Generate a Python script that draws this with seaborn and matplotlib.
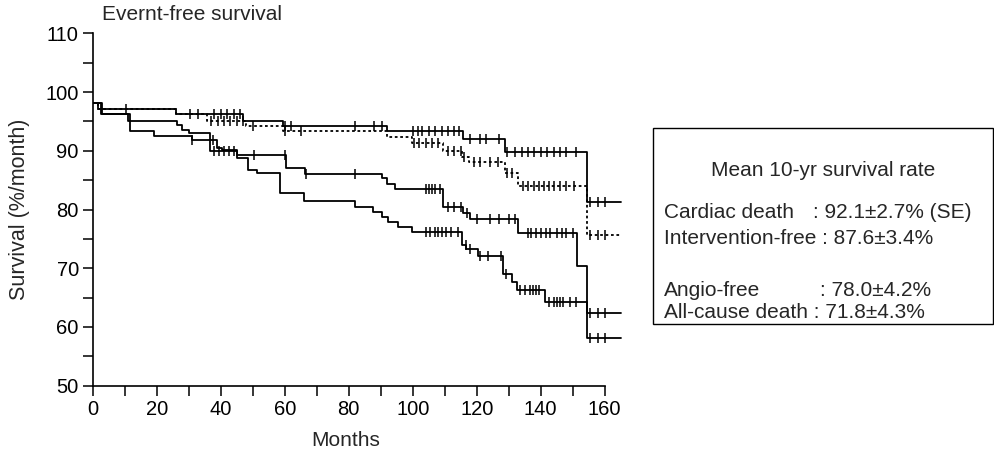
"""Event-free survival step curves (Kaplan-Meier style) with censor marks."""

import numpy as np
import pandas as pd
import matplotlib
matplotlib.use("Agg")
import matplotlib.pyplot as plt
import seaborn as sns
from matplotlib.patches import Rectangle

W, H = 994, 455

# step curves: time of each step (months) and survival after the step (%)
cardiac_t = [0, 1.5, 26, 47, 59.5, 92, 115.8, 128.9, 154.4]
cardiac_s = [98.1, 97.1, 96.2, 95.1, 94.3, 93.4, 92.0, 89.8, 81.3]

interv_t = [0, 1.5, 26, 35.6, 48, 59.5, 92, 99.7, 109.5, 115.5, 117.5, 128.9, 133, 154.4]
interv_s = [98.1, 97.1, 96.2, 95.1, 94.3, 93.4, 92.4, 91.3, 90.0, 88.9, 88.1, 86.2, 84.0, 75.7]

angio_t = [0, 2.5, 10.9, 26.4, 28, 30, 36.7, 38.8, 40.5, 45, 60.5, 66.3, 90.3, 92, 94.5,
           109.5, 115.8, 118, 133, 151.3, 154.4]
angio_s = [98.1, 96.3, 95.1, 94.4, 93.6, 93.0, 91.9, 90.4, 90.1, 89.2, 87.0, 86.1, 85.3, 84.4, 83.5,
           80.4, 79.4, 78.3, 76.0, 70.3, 62.4]

allcause_t = [0, 3, 11.7, 19, 31, 36.7, 45, 48.6, 51.2, 58.5, 66, 82, 87.7, 90.3, 92.4, 95.5,
              99.7, 115.3, 116.8, 120.5, 128.2, 131, 132.5, 141.3, 154.4]
allcause_s = [98.1, 96.3, 93.3, 92.5, 91.9, 89.9, 88.7, 86.7, 86.2, 82.8, 81.4, 80.5, 79.6, 78.8, 77.8, 77.1,
              76.2, 74.0, 73.2, 72.0, 69.1, 67.7, 66.3, 64.3, 58.1]

end_t = 165

# censored observations (months)
cardiac_c = [10.5, 30.5, 33, 38, 40, 42, 44, 46, 60, 62, 82, 88, 90.5, 100, 101.5, 103, 105, 107, 109,
             111, 113, 114.5, 118, 121, 123, 127, 129.5, 132, 134, 136, 138, 140, 142, 144, 146, 148,
             151, 155.5, 158, 160]
interv_c = [37, 39, 41, 43, 45, 47, 50, 60, 65, 100.5, 102, 104, 106, 108, 111, 113, 115, 116, 119, 121,
            124, 126.5, 129.5, 131, 134.5, 136, 138, 139.5, 141, 142.5, 144, 146, 148, 150.5,
            155.5, 158, 160]
angio_c = [37.5, 50.5, 60, 66.5, 82, 104, 105, 106, 107, 108.5, 111, 113, 115, 117, 120, 124, 127, 130,
           132, 136, 137, 138.5, 140, 141.5, 143, 145, 146.5, 148, 150, 155.5, 158, 160]
allcause_c = [31, 38, 39.5, 41, 42.5, 44, 104, 105.5, 107, 108, 109, 110.5, 112, 114, 116.5, 118, 121,
              123.5, 127.5, 129, 133.5, 135, 136.5, 137.5, 138.5, 139.5, 142.5, 144, 145, 146, 147,
              149, 151, 155.5, 158, 160]

names = ["Cardiac death", "Intervention-free", "Angio-free", "All-cause death"]
steps = {
    "Cardiac death": (cardiac_t, cardiac_s, cardiac_c),
    "Intervention-free": (interv_t, interv_s, interv_c),
    "Angio-free": (angio_t, angio_s, angio_c),
    "All-cause death": (allcause_t, allcause_s, allcause_c),
}

rate_labels = ["Cardiac death", "Intervention-free", "Angio-free", "All-cause death"]
rate_values = [": 92.1\u00b12.7% (SE)", ": 87.6\u00b13.4%", ": 78.0\u00b14.2%", ": 71.8\u00b14.3%"]


def build_frames():
    line_rows, cens_rows = [], []
    for name in names:
        t, s, c = steps[name]
        for ti, si in zip(list(t) + [end_t], list(s) + [s[-1]]):
            line_rows.append({"curve": name, "months": ti, "survival": si})
        t_arr = np.asarray(t)
        for ci in c:
            idx = np.searchsorted(t_arr, ci, side="right") - 1
            cens_rows.append({"curve": name, "months": ci, "survival": s[idx]})
    return pd.DataFrame(line_rows), pd.DataFrame(cens_rows)


def main():
    sns.set_theme(style="ticks")
    plt.rcParams["font.family"] = ["Liberation Sans", "DejaVu Sans"]

    lines, cens = build_frames()

    fig = plt.figure(figsize=(W / 100, H / 100), dpi=100)
    x0, x1 = 92.7, 92.7 + 166 * 3.2
    y_top, y_bot = 33.3, 385.7
    ax = fig.add_axes([x0 / W, 1 - y_bot / H, (x1 - x0) / W, (y_bot - y_top) / H])

    palette = {n: "black" for n in names}
    dashes = {"Cardiac death": "", "Intervention-free": (1.5, 1.5),
              "Angio-free": "", "All-cause death": ""}
    sns.lineplot(data=lines, x="months", y="survival", hue="curve", style="curve",
                 palette=palette, dashes=dashes, drawstyle="steps-post", estimator=None,
                 sort=False, legend=False, linewidth=1.3, ax=ax)
    sns.scatterplot(data=cens, x="months", y="survival", marker="|", color="black",
                    s=45, linewidth=1.1, legend=False, ax=ax)

    ax.set_xlim(0, 166)
    ax.set_ylim(50, 110)
    sns.despine(ax=ax)
    ax.spines["bottom"].set_bounds(0, 160)
    ax.spines["left"].set_bounds(50, 110)
    for sp in ("left", "bottom"):
        ax.spines[sp].set_linewidth(1.2)
        ax.spines[sp].set_color("black")

    xt = np.arange(0, 161, 10)
    ax.set_xticks(xt)
    ax.set_xticklabels([str(v) if v % 20 == 0 else "" for v in xt])
    yt = np.arange(50, 111, 5)
    ax.set_yticks(yt)
    ax.set_yticklabels([str(v) if v % 10 == 0 else "" for v in yt])
    ax.tick_params(direction="out", length=7, width=1.1, labelsize=14.5, colors="black", pad=3)

    ax.set_xlabel("Months", fontsize=15)
    ax.set_ylabel("Survival (%/month)", fontsize=15.5)
    ax.xaxis.set_label_coords((346 - x0) / (x1 - x0), (y_bot - 440) / (y_bot - y_top))
    ax.xaxis.label.set_va("center")
    ax.yaxis.set_label_coords((20 - x0) / (x1 - x0), 0.5)
    ax.yaxis.label.set_va("center")

    fig.text(102 / W, 1 - 15 / H, "Evernt-free survival", fontsize=15, ha="left", va="center")

    # summary box
    bx0, bx1, by0, by1 = 653, 993, 128, 324
    fig.add_artist(Rectangle((bx0 / W, 1 - by1 / H), (bx1 - bx0) / W, (by1 - by0) / H,
                             transform=fig.transFigure, fill=False, edgecolor="black", linewidth=1.0))
    fig.text(823 / W, 1 - 170 / H, "Mean 10-yr survival rate", fontsize=15, ha="center", va="center")
    rows_y = [212, 238, 291, 312]
    vals_x = [813, 813, 820, 813]
    for lab, val, yy, vx in zip(rate_labels, rate_values, rows_y, vals_x):
        if lab == "Intervention-free" or lab == "All-cause death":
            fig.text(664 / W, 1 - yy / H, f"{lab} {val}", fontsize=15, ha="left", va="center")
        else:
            fig.text(664 / W, 1 - yy / H, lab, fontsize=15, ha="left", va="center")
            fig.text(vx / W, 1 - yy / H, val, fontsize=15, ha="left", va="center")

    fig.savefig("out.png", dpi=100)


if __name__ == "__main__":
    main()
